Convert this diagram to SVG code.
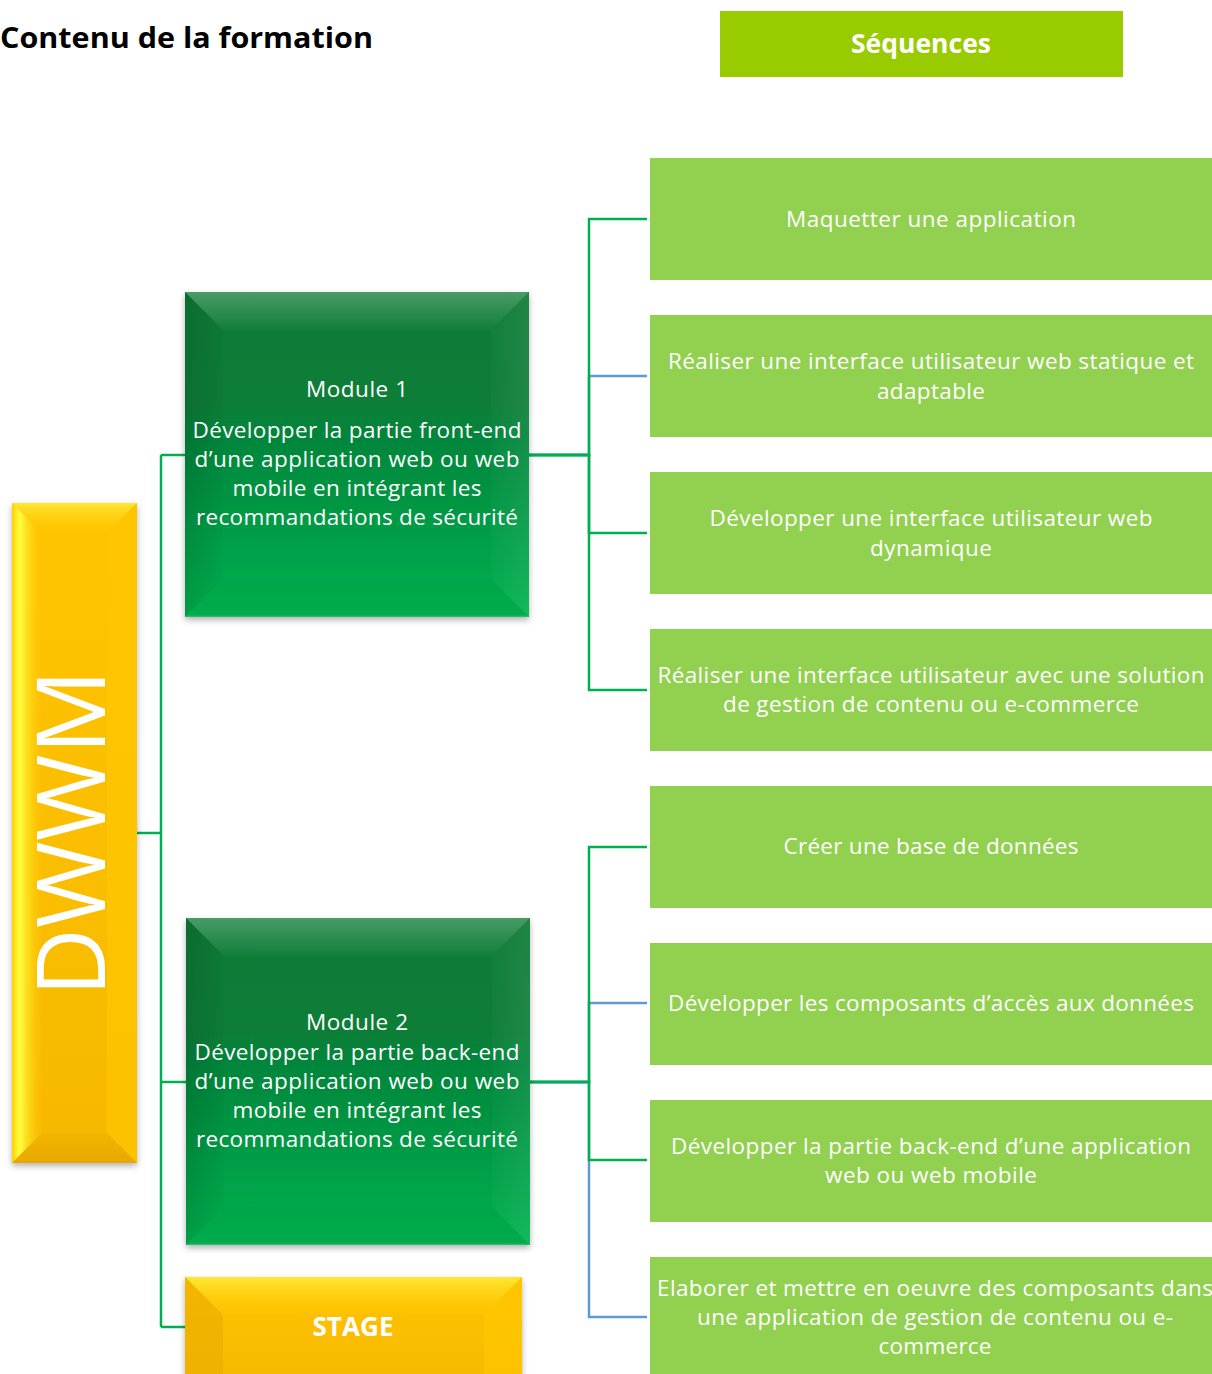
<svg xmlns="http://www.w3.org/2000/svg" width="1212" height="1374" viewBox="0 0 1212 1374">
<defs>
<style>
.t{font-family:"Open Sans","Noto Sans","Liberation Sans",sans-serif;fill:#fff;font-size:22.5px;text-anchor:middle}
.b{font-weight:bold}
.seq{fill:#92D050}
.cg{fill:none;stroke:#00B050;stroke-width:2.5}
.cb{fill:none;stroke:#5B9BD5;stroke-width:2.5}
</style>
<linearGradient id="gGreen" x1="0" y1="0" x2="0" y2="1">
<stop offset="0" stop-color="#077A36"/>
<stop offset="0.35" stop-color="#077E38"/>
<stop offset="1" stop-color="#00B24F"/>
</linearGradient>
<linearGradient id="gYellow" x1="0" y1="0" x2="0" y2="1">
<stop offset="0" stop-color="#FFC400"/>
<stop offset="1" stop-color="#F7B800"/>
</linearGradient>
<linearGradient id="bevTop" x1="0" y1="0" x2="0" y2="1">
<stop offset="0" stop-color="#fff" stop-opacity="0.25"/>
<stop offset="1" stop-color="#fff" stop-opacity="0.02"/>
</linearGradient>
<linearGradient id="bevBot" x1="0" y1="1" x2="0" y2="0">
<stop offset="0" stop-color="#fff" stop-opacity="0.22"/>
<stop offset="0.1" stop-color="#000" stop-opacity="0.03"/>
<stop offset="1" stop-color="#000" stop-opacity="0.02"/>
</linearGradient>
<linearGradient id="bevLeft" x1="0" y1="0" x2="1" y2="0">
<stop offset="0" stop-color="#000" stop-opacity="0.12"/>
<stop offset="1" stop-color="#000" stop-opacity="0.02"/>
</linearGradient>
<linearGradient id="bevRight" x1="1" y1="0" x2="0" y2="0">
<stop offset="0" stop-color="#fff" stop-opacity="0.08"/>
<stop offset="1" stop-color="#fff" stop-opacity="0.02"/>
</linearGradient>
<linearGradient id="yLeft" x1="0" y1="0" x2="1" y2="0">
<stop offset="0" stop-color="#FFD000"/>
<stop offset="0.25" stop-color="#FFFF40"/>
<stop offset="1" stop-color="#FFC000" stop-opacity="0.2"/>
</linearGradient>
<linearGradient id="yBot" x1="0" y1="1" x2="0" y2="0">
<stop offset="0" stop-color="#E0A000" stop-opacity="0.7"/>
<stop offset="1" stop-color="#E8A800" stop-opacity="0.3"/>
</linearGradient>
<linearGradient id="yTop" x1="0" y1="0" x2="0" y2="1">
<stop offset="0" stop-color="#FFEB3B" stop-opacity="0.9"/>
<stop offset="1" stop-color="#FFC800" stop-opacity="0.2"/>
</linearGradient>
<filter id="sh" x="-10%" y="-10%" width="120%" height="120%">
<feDropShadow dx="0" dy="3" stdDeviation="3" flood-color="#000" flood-opacity="0.3"/>
</filter>
</defs>
<rect width="1212" height="1374" fill="#fff"/>

<g id="title">
<text x="0" y="48" class="t b" style="fill:#000;text-anchor:start;font-size:29px" textLength="373" lengthAdjust="spacingAndGlyphs">Contenu de la formation</text>
</g>

<g id="sequences-header">
<rect x="720" y="11" width="403" height="66" fill="#99CC00"/>
<text x="921" y="53" class="t b" style="font-size:27px" textLength="140" lengthAdjust="spacingAndGlyphs">Séquences</text>
</g>

<g id="connectors">
<path class="cg" d="M137,833 H161"/>
<path class="cg" d="M161,455 V1327"/>
<path class="cg" d="M161,455 H185"/>
<path class="cg" d="M161,1082 H186"/>
<path class="cg" d="M161,1327 H185"/>
<path class="cb" d="M529,455 H589 V376 H647"/>
<path class="cg" d="M529,455 H589 V219 H647"/>
<path class="cg" d="M529,455 H589 V533 H647"/>
<path class="cg" d="M529,455 H589 V690 H647"/>
<path class="cb" d="M530,1082 H589 V1003 H647"/>
<path class="cb" d="M530,1082 H589 V1317 H647"/>
<path class="cg" d="M530,1082 H589 V847 H647"/>
<path class="cg" d="M530,1082 H589 V1160 H647"/>
</g>

<g id="dwwm">
<g filter="url(#sh)">
<rect x="12" y="503" width="125" height="660" fill="url(#gYellow)"/>
</g>
<polygon points="12,503 137,503 107,533 42,533" fill="url(#yTop)"/>
<polygon points="12,503 42,533 42,1133 12,1163" fill="url(#yLeft)"/>
<polygon points="137,503 107,533 107,1133 137,1163" fill="#FFC800" opacity="0.6"/>
<polygon points="12,1163 137,1163 107,1133 42,1133" fill="url(#yBot)"/>
<text transform="translate(105,833) rotate(-90)" x="0" y="0" class="t" style="font-size:96px" textLength="327" lengthAdjust="spacingAndGlyphs">DWWM</text>
</g>

<g id="module1">
<g filter="url(#sh)">
<rect x="185" y="292" width="344" height="325" fill="url(#gGreen)"/>
</g>
<polygon points="185,292 529,292 491,330 223,330" fill="url(#bevTop)"/>
<polygon points="185,292 223,330 223,579 185,617" fill="url(#bevLeft)"/>
<polygon points="529,292 491,330 491,579 529,617" fill="url(#bevRight)"/>
<polygon points="185,617 529,617 491,579 223,579" fill="url(#bevBot)"/>
<text x="357" y="397" class="t" textLength="102">Module 1</text>
<text x="357" y="438" class="t" textLength="329">Développer la partie front-end</text>
<text x="357" y="467" class="t" textLength="325">d’une application web ou web</text>
<text x="357" y="496" class="t" textLength="249">mobile en intégrant les</text>
<text x="357" y="525" class="t" textLength="322">recommandations de sécurité</text>
</g>

<g id="module2">
<g filter="url(#sh)">
<rect x="186" y="918" width="344" height="327" fill="url(#gGreen)"/>
</g>
<polygon points="186,918 530,918 492,956 224,956" fill="url(#bevTop)"/>
<polygon points="186,918 224,956 224,1207 186,1245" fill="url(#bevLeft)"/>
<polygon points="530,918 492,956 492,1207 530,1245" fill="url(#bevRight)"/>
<polygon points="186,1245 530,1245 492,1207 224,1207" fill="url(#bevBot)"/>
<text x="357" y="1030" class="t" textLength="102">Module 2</text>
<text x="357" y="1060" class="t" textLength="325">Développer la partie back-end</text>
<text x="357" y="1089" class="t" textLength="325">d’une application web ou web</text>
<text x="357" y="1118" class="t" textLength="249">mobile en intégrant les</text>
<text x="357" y="1147" class="t" textLength="322">recommandations de sécurité</text>
</g>

<g id="stage">
<g filter="url(#sh)">
<rect x="185" y="1277" width="337" height="110" fill="url(#gYellow)"/>
</g>
<polygon points="185,1277 522,1277 484,1315 223,1315" fill="url(#yTop)"/>
<polygon points="185,1277 223,1315 223,1374 185,1374" fill="#E8A800" opacity="0.5"/>
<polygon points="522,1277 484,1315 484,1374 522,1374" fill="#FFC800" opacity="0.6"/>
<text x="353" y="1336" class="t b" style="font-size:27px" textLength="81" lengthAdjust="spacingAndGlyphs">STAGE</text>
</g>

<g id="seq1"><rect class="seq" x="650" y="158" width="562" height="122"/>
<text x="931" y="227" class="t" textLength="290">Maquetter une application</text></g>
<g id="seq2"><rect class="seq" x="650" y="315" width="562" height="122"/>
<text x="931" y="369" class="t" textLength="526">Réaliser une interface utilisateur web statique et</text>
<text x="931" y="399" class="t" textLength="108">adaptable</text></g>
<g id="seq3"><rect class="seq" x="650" y="472" width="562" height="122"/>
<text x="931" y="526" class="t" textLength="443">Développer une interface utilisateur web</text>
<text x="931" y="556" class="t" textLength="122">dynamique</text></g>
<g id="seq4"><rect class="seq" x="650" y="629" width="562" height="122"/>
<text x="931" y="683" class="t" textLength="547">Réaliser une interface utilisateur avec une solution</text>
<text x="931" y="712" class="t" textLength="416">de gestion de contenu ou e-commerce</text></g>
<g id="seq5"><rect class="seq" x="650" y="786" width="562" height="122"/>
<text x="931" y="854" class="t" textLength="295">Créer une base de données</text></g>
<g id="seq6"><rect class="seq" x="650" y="943" width="562" height="122"/>
<text x="931" y="1011" class="t" textLength="526">Développer les composants d’accès aux données</text></g>
<g id="seq7"><rect class="seq" x="650" y="1100" width="562" height="122"/>
<text x="931" y="1154" class="t" textLength="520">Développer la partie back-end d’une application</text>
<text x="931" y="1183" class="t" textLength="212">web ou web mobile</text></g>
<g id="seq8"><rect class="seq" x="650" y="1257" width="562" height="117"/>
<text x="935" y="1296" class="t" textLength="556">Elaborer et mettre en oeuvre des composants dans</text>
<text x="935" y="1325" class="t" textLength="476">une application de gestion de contenu ou e-</text>
<text x="935" y="1354" class="t" textLength="113">commerce</text></g>
</svg>
